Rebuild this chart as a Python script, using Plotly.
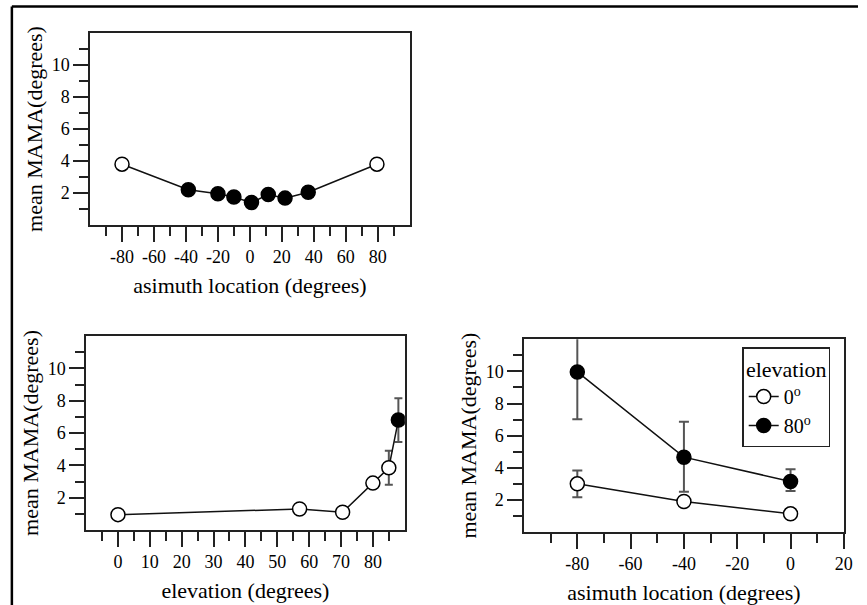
import plotly.graph_objects as go

W, H = 867, 605

# top left: MAMA vs azimuth at 0 deg elevation
az_top = [-80, -38.5, -20, -10, 1, 11.5, 22, 36.5, 79.5]
mama_top = [3.8, 2.2, 1.95, 1.75, 1.4, 1.9, 1.68, 2.05, 3.8]
fill_top = ['white', 'black', 'black', 'black', 'black', 'black', 'black', 'black', 'white']

# bottom left: MAMA vs elevation
elev = [0, 57, 70.5, 80, 85, 88]
mama_elev = [0.95, 1.3, 1.1, 2.9, 3.85, 6.8]
err_elev = [None, None, None, None, 1.05, 1.35]
fill_elev = ['white', 'white', 'white', 'white', 'white', 'black']

# bottom right: MAMA vs azimuth, two elevations
az_br = [-80, -40, 0]
mama_0 = [3.0, 1.9, 1.13]
err_0 = [0.83, None, None]
mama_80 = [9.97, 4.66, 3.15]
err_80_up = [2.95, 2.2, 0.75]
err_80_dn = [2.95, 2.15, 0.6]

FONT = "Liberation Serif"
ERRC = "#555555"
AXC = "#222"


def px_dom(a, b, total, flip=False):
    if flip:
        return [1 - b / total, 1 - a / total]
    return [a / total, b / total]


def axis_style(title, rng, major, minor, dom, is_x):
    return dict(
        domain=dom, range=rng, showline=True, linecolor=AXC, linewidth=1.5,
        mirror=True, showgrid=False, zeroline=False,
        ticks="outside", ticklen=15, tickwidth=1.5, tickcolor=AXC,
        tickmode="array", tickvals=major, ticktext=[str(v) for v in major],
        tickfont=dict(family=FONT, size=18, color="black"),
        minor=dict(tickmode="array", tickvals=minor, ticklen=9, tickwidth=1.5,
                   tickcolor=AXC, ticks="outside", showgrid=False),
        title=dict(text=title, font=dict(family=FONT, size=22, color="black"),
                   standoff=11 if is_x else 3),
        fixedrange=True,
    )


def end_ticks(base, anchor, rng, vals, side):
    # unlabeled long ticks at the ends of an axis
    return dict(
        overlaying=base, anchor=anchor, side=side, range=rng,
        tickmode="array", tickvals=vals, showticklabels=False,
        ticks="outside", ticklen=15, tickwidth=1.5, tickcolor=AXC,
        showline=False, showgrid=False, zeroline=False, fixedrange=True,
    )


y_major = [2, 4, 6, 8, 10]
y_minor = [1, 3, 5, 7, 9, 11]
y_ends = [0]

az_major = list(range(-80, 81, 20))
az_minor = list(range(-90, 100, 20))
az_ends = [-100, 100]

el_major = list(range(0, 81, 10))
el_minor = list(range(-5, 90, 10))
el_ends = [-10, 90]

br_major = list(range(-80, 21, 20))
br_minor = list(range(-90, 20, 20))
br_ends = [-100]

fig = go.Figure()

fig.add_trace(go.Scatter(
    x=az_top, y=mama_top, mode="lines+markers", xaxis="x", yaxis="y",
    line=dict(color="#111", width=1.5), showlegend=False,
    marker=dict(size=14, color=fill_top, line=dict(color="black", width=1.5)),
))

fig.add_trace(go.Scatter(
    x=elev, y=mama_elev, mode="lines+markers", xaxis="x2", yaxis="y2",
    line=dict(color="#111", width=1.5), showlegend=False,
    marker=dict(size=14, color=fill_elev, line=dict(color="black", width=1.5)),
    error_y=dict(type="data", array=err_elev, color=ERRC, thickness=2, width=4),
))

fig.add_trace(go.Scatter(
    x=az_br, y=mama_0, mode="lines+markers", xaxis="x3", yaxis="y3",
    name="0<sup>o</sup>",
    line=dict(color="#111", width=1.5),
    marker=dict(size=14, color="white", line=dict(color="black", width=1.5)),
    error_y=dict(type="data", array=err_0, color=ERRC, thickness=2, width=5),
))
fig.add_trace(go.Scatter(
    x=az_br, y=mama_80, mode="lines+markers", xaxis="x3", yaxis="y3",
    name="80<sup>o</sup>",
    line=dict(color="#111", width=1.5),
    marker=dict(size=14, color="black", line=dict(color="black", width=1.5)),
    error_y=dict(type="data", array=err_80_up, arrayminus=err_80_dn,
                 color=ERRC, thickness=2, width=5),
))

ytitle = "mean MAMA(degrees)"
fig.update_layout(
    width=W, height=H, margin=dict(l=0, r=0, t=0, b=0),
    paper_bgcolor="white", plot_bgcolor="white",
    font=dict(family=FONT, color="black"),
    xaxis=axis_style("asimuth location (degrees)", [-100, 100], az_major,
                     az_minor, px_dom(91, 414, W), True),
    yaxis=axis_style(ytitle, [0, 12], y_major, y_minor,
                     px_dom(33, 225, H, True), False),
    xaxis2=axis_style("elevation (degrees)", [-10, 90], el_major,
                      el_minor, px_dom(87, 409, W), True),
    yaxis2=axis_style(ytitle, [0, 12], y_major, y_minor,
                      px_dom(336, 530, H, True), False),
    xaxis3=axis_style("asimuth location (degrees)", [-100, 20], br_major,
                      br_minor, px_dom(529.5, 852.7, W), True),
    yaxis3=axis_style(ytitle, [0, 12], y_major, y_minor,
                      px_dom(339.3, 532, H, True), False),
    xaxis4=end_ticks("x", "y", [-100, 100], az_ends, "bottom"),
    yaxis4=end_ticks("y", "x", [0, 12], y_ends, "left"),
    xaxis5=end_ticks("x2", "y2", [-10, 90], el_ends, "bottom"),
    yaxis5=end_ticks("y2", "x2", [0, 12], y_ends, "left"),
    xaxis6=end_ticks("x3", "y3", [-100, 20], br_ends, "bottom"),
    yaxis6=end_ticks("y3", "x3", [0, 12], y_ends, "left"),
    legend=dict(
        x=750 / W, y=1 - 347 / H, xanchor="left", yanchor="top",
        bgcolor="white", bordercolor=AXC, borderwidth=1.5,
        font=dict(family=FONT, size=20, color="black"),
        title=dict(text="elevation", side="top center",
                   font=dict(family=FONT, size=22, color="black")),
        tracegroupgap=0, itemwidth=30,
    ),
)

fig.layout.xaxis.anchor = "y"
fig.layout.yaxis.anchor = "x"
fig.layout.xaxis2.anchor = "y2"
fig.layout.yaxis2.anchor = "x2"
fig.layout.xaxis3.anchor = "y3"
fig.layout.yaxis3.anchor = "x3"

# page frame (left and top edges)
fig.add_shape(type="line", xref="paper", yref="paper",
              x0=12 / W, x1=12 / W, y0=0, y1=1 - 6.5 / H,
              line=dict(color="black", width=2.5))
fig.add_shape(type="line", xref="paper", yref="paper",
              x0=12 / W, x1=1, y0=1 - 6.5 / H, y1=1 - 6.5 / H,
              line=dict(color="black", width=2.5))

fig.write_html("out.html", config={"displayModeBar": False},
               post_script="document.body.style.margin='0';")
